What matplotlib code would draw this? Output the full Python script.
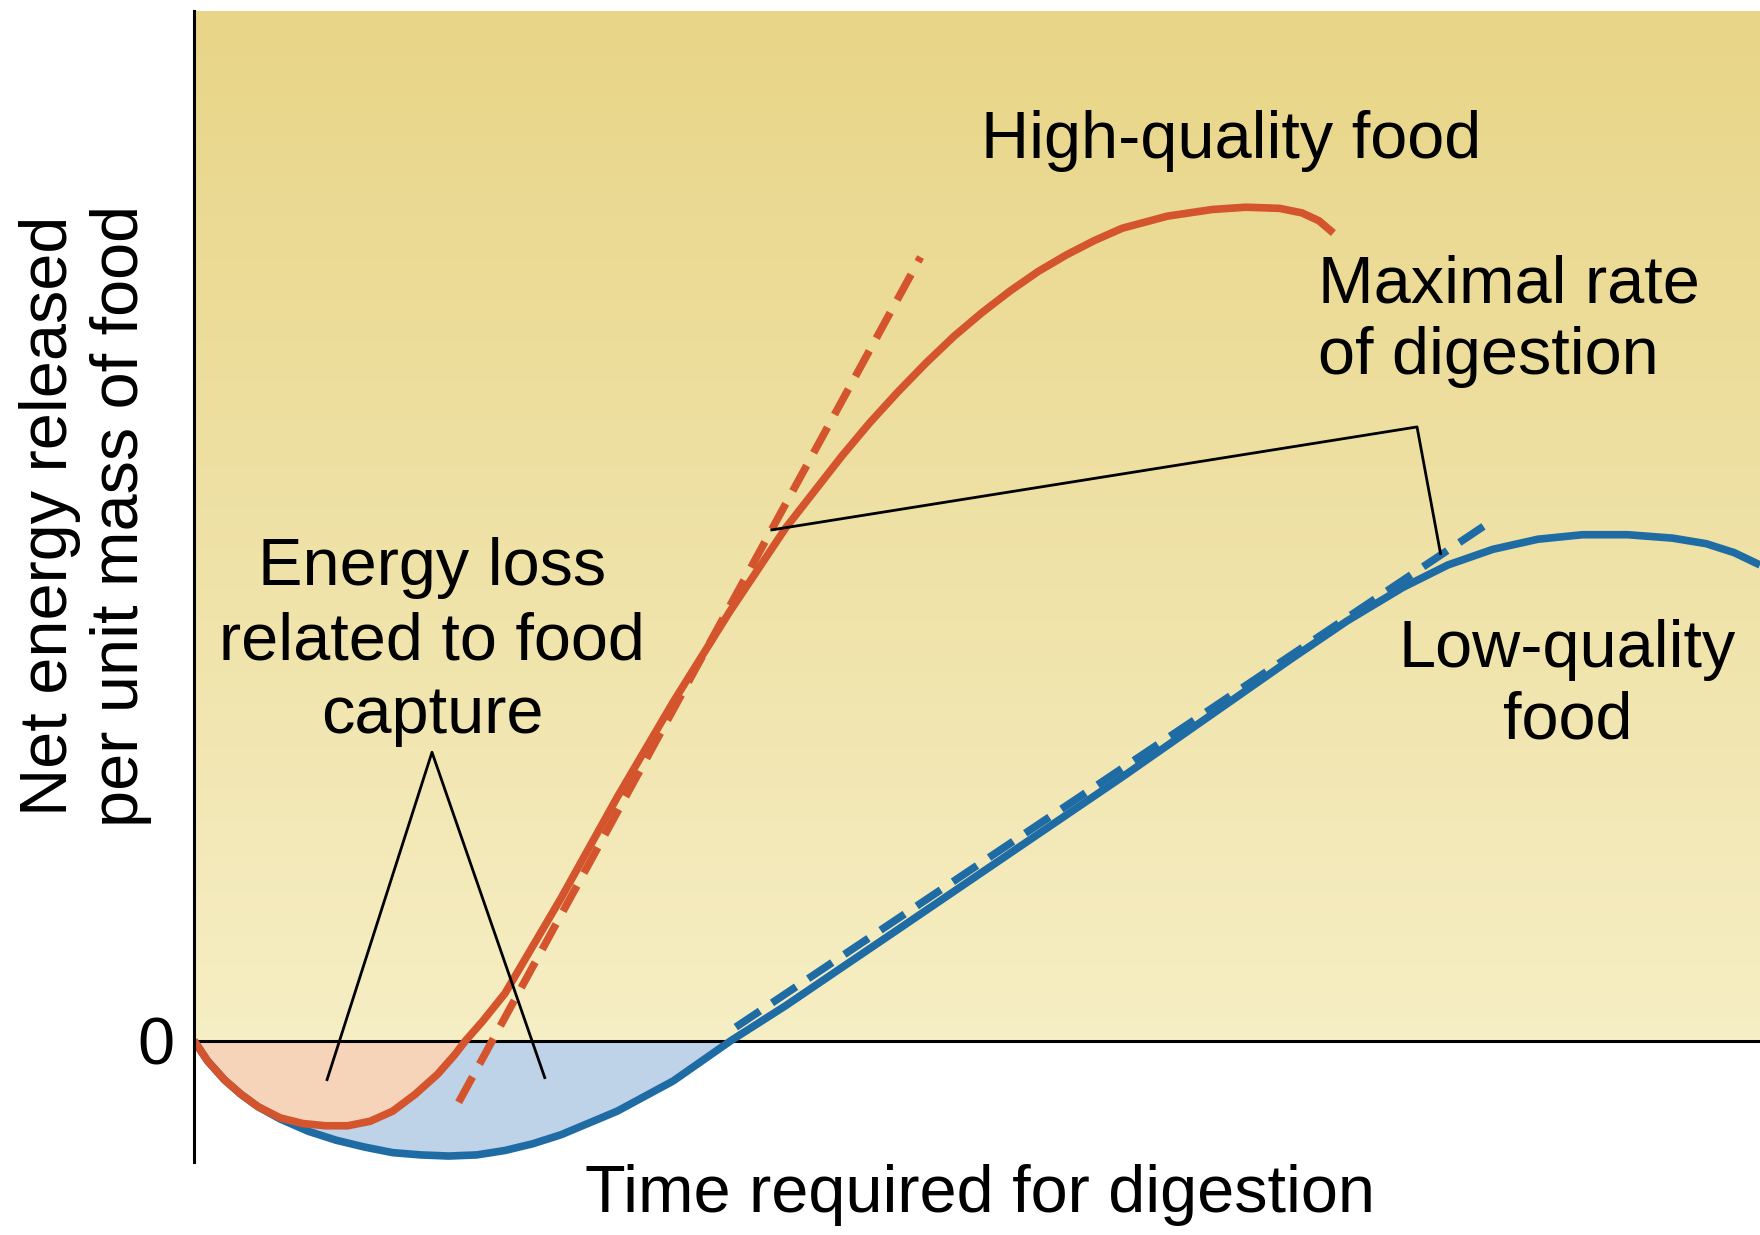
import numpy as np
import matplotlib.pyplot as plt
from matplotlib.colors import LinearSegmentedColormap

plt.rcParams['font.family'] = ['Liberation Sans', 'DejaVu Sans']

# high-quality food curve (time, net energy)
high_t = [0, 0.86, 1.94, 3.01, 4.09, 5.52, 6.95, 8.39, 9.82, 11.25, 12.69, 14.12,
          15.56, 16.63, 17.35, 18.42, 19.86, 23.44, 27.03, 30.61, 34.19, 37.78,
          41.36, 43.15, 44.95, 46.74, 48.53, 50.32, 52.11, 53.91, 55.70, 57.49,
          59.28, 62.15, 65.02, 67.17, 69.32, 70.75, 71.83, 72.76]
high_e = [0, -1.96, -3.81, -5.23, -6.43, -7.52, -8.06, -8.28, -8.28, -7.84, -6.86,
          -5.23, -3.27, -1.42, 0, 1.85, 4.58, 13.83, 23.64, 32.90, 41.61, 49.78,
          56.75, 60.0, 63.0, 65.8, 68.4, 70.7, 72.8, 74.7, 76.3, 77.7,
          78.9, 80.07, 80.72, 80.94, 80.83, 80.39, 79.63, 78.43]

# low-quality food curve
low_t = [0, 0.86, 1.94, 3.01, 4.09, 5.52, 7.31, 9.10, 10.90, 12.69, 14.48, 16.27,
         18.06, 19.86, 21.65, 23.44, 27.03, 30.61, 34.30, 37.78, 41.36, 44.95,
         52.11, 59.28, 66.45, 70.04, 73.62, 77.20, 80.07, 82.94, 85.81, 88.67,
         91.54, 94.41, 96.56, 98.35, 100]
low_e = [0, -1.96, -3.81, -5.23, -6.43, -7.63, -8.82, -9.69, -10.35, -10.89, -11.11,
         -11.22, -11.11, -10.68, -10.02, -9.15, -6.86, -3.92, 0, 3.38, 7.08, 10.78,
         18.19, 25.60, 33.22, 37.04, 40.74, 44.01, 46.19, 47.71, 48.69, 49.13,
         49.13, 48.80, 48.26, 47.39, 46.19]

# tangents (maximal rate of digestion)
high_tan_t = [16.9, 46.4]
high_tan_e = [-6.0, 76.1]
low_tan_t = [34.6, 82.4]
low_tan_e = [1.3, 50.0]

# pointer lines
loss_t = [8.5, 15.2, 22.4]
loss_e = [-3.8, 28.0, -3.6]
rate_t = [36.9, 78.1, 79.6]
rate_e = [49.6, 59.6, 47.3]

red = '#D4552D'
blue = '#1F6CA5'

fig = plt.figure(figsize=(17.6, 12.35), dpi=100)
ax = fig.add_axes([0.1102, 0.0591, 0.8898, 0.932])
ax.set_xlim(0, 100)
ax.set_ylim(-11.8, 100)

# yellow gradient background above zero
cmap = LinearSegmentedColormap.from_list('bg', ['#F6EEC4', '#E8D587'])
grad = np.linspace(0, 1, 256).reshape(-1, 1)
ax.imshow(grad, extent=[0, 100, 0, 100], origin='lower', aspect='auto',
          cmap=cmap, zorder=0)

low_t_a = np.array(low_t)
low_e_a = np.array(low_e)
high_t_a = np.array(high_t)
high_e_a = np.array(high_e)
ax.fill_between(low_t_a, low_e_a, 0, where=low_e_a <= 0, interpolate=True,
                color='#BED2E8', lw=0, zorder=1)
ax.fill_between(high_t_a, high_e_a, 0, where=high_e_a <= 0, interpolate=True,
                color='#F6D4BA', lw=0, zorder=1.5)

ax.axhline(0, color='black', lw=2.2, zorder=2)

ax.plot(low_tan_t, low_tan_e, color=blue, lw=5.5, dashes=(3.8, 1.9), zorder=3)
ax.plot(low_t, low_e, color=blue, lw=5.5, zorder=3.5, solid_capstyle='butt',
        solid_joinstyle='round')
ax.plot(high_tan_t, high_tan_e, color=red, lw=5.5, dashes=(3.8, 1.9), zorder=4)
ax.plot(high_t, high_e, color=red, lw=5.5, zorder=4.5, solid_capstyle='butt',
        solid_joinstyle='round')

ax.plot(loss_t, loss_e, color='black', lw=2, zorder=5)
ax.plot(rate_t, rate_e, color='black', lw=2, zorder=5)

fs = 48
ax.text(66.2, 87.4, 'High-quality food', fontsize=fs, ha='center', va='center')
ax.text(71.8, 69.9, 'Maximal rate\nof digestion', fontsize=fs, ha='left',
        va='center', linespacing=1.2)
ax.text(15.2, 38.7, 'Energy loss\nrelated to food\ncapture', fontsize=fs,
        ha='center', va='center', linespacing=1.25)
ax.text(87.7, 34.5, 'Low-quality\nfood', fontsize=fs, ha='center', va='center',
        linespacing=1.2)

for s in ['top', 'right', 'bottom']:
    ax.spines[s].set_visible(False)
ax.spines['left'].set_linewidth(2.2)
ax.spines['left'].set_zorder(6)
ax.set_xticks([])
ax.set_yticks([0])
ax.set_yticklabels(['0'], fontsize=fs)
ax.tick_params(axis='y', length=0, pad=14)

fig.text(0.557, 0.032, 'Time required for digestion', fontsize=fs,
         ha='center', va='center')
fig.text(0.0485, 0.582, 'Net energy released\nper unit mass of food', fontsize=fs,
         ha='center', va='center', rotation=90, linespacing=1.2)

fig.savefig('out.png', dpi=100)
